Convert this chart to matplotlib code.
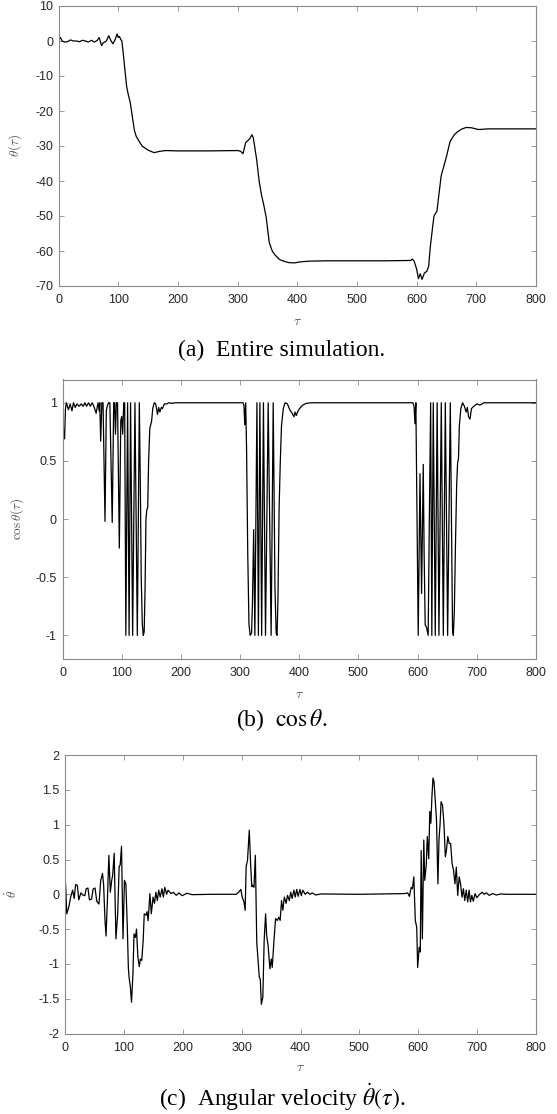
import matplotlib
matplotlib.use("Agg")
import matplotlib.pyplot as plt

# ---------------- data ----------------
tau_theta = [0, 3, 6, 10, 15, 20, 25, 30, 35, 40, 45, 50, 55, 60, 65, 68, 72, 75, 80,
             84, 88, 91, 95, 98, 100, 102, 104, 106, 108, 111, 114, 117, 120, 123, 127,
             130, 135, 140, 145, 150, 160, 170, 180, 200, 250, 300, 305, 309, 313.5,
             317, 320, 324, 326, 328, 332, 336, 340, 344, 348, 353, 358, 362, 370, 377,
             385, 395, 405, 420, 450, 500, 550, 590, 593, 596, 600, 603, 606, 609, 613,
             617, 620, 623, 629, 634, 641, 650, 656, 663, 668, 675, 683, 692, 704, 720,
             750, 800]
theta = [0.5, 1.0, 0.0, -0.3, -0.2, 0.3, 0.0, 0.0, -0.2, 0.2, 0.0, -0.3, 0.2, -0.3,
         0.2, 1.0, -1.3, -0.5, 0.0, 1.5, 0.0, -0.8, 0.5, 2.0, 1.0, 1.3, 0.5, 0.0, -3.0,
         -8.0, -13.0, -15.5, -17.5, -21.0, -25.5, -27.2, -28.7, -30.0, -30.6, -31.2,
         -31.9, -31.5, -31.3, -31.4, -31.4, -31.3, -31.5, -32.2, -29.0, -28.5, -28.0,
         -26.8, -27.5, -29.5, -34.0, -40.0, -44.0, -47.0, -50.5, -57.6, -60.0, -61.0,
         -62.4, -62.9, -63.3, -63.4, -63.1, -62.9, -62.8, -62.8, -62.8, -62.7, -62.3,
         -63.0, -65.2, -67.9, -66.5, -68.1, -66.3, -65.8, -64.5, -58.6, -50.0, -48.6,
         -38.6, -33.0, -28.7, -26.8, -26.0, -25.2, -24.7, -24.8, -25.3, -25.1, -25.1,
         -25.1]

tau_cos = [0, 1, 2, 3.5, 5, 6.5, 10, 13, 16, 18.5, 21.5, 24.5, 28, 31.7, 35, 37.7, 40.7,
           44, 47, 50, 53, 56.8, 60, 62, 63, 64.5, 66.5, 68.5, 71.8, 74, 76, 78, 80,
           84, 86.5, 88, 89.5, 91, 93, 96, 98.5, 100, 101.7, 103.5, 105, 107, 110,
           112.5, 115, 118.5, 122.4, 126.4, 129.8, 131.5, 133, 134.8, 136.5, 138,
           139.5, 141, 142.5, 144, 145.5, 147.5, 150.5, 152.5, 155, 157.5, 160.5,
           162.5, 164.5, 167, 169, 172, 176, 180, 185, 190, 250, 300, 305, 306.5, 308,
           309.5, 311, 313, 315, 317, 319.5, 321, 323, 325, 328.5, 331, 333.5, 336.5,
           339.5, 343, 347.5, 352.5, 356, 359, 361, 362.5, 364, 366, 368, 370, 373,
           376, 380, 384, 388, 391, 393, 395, 398, 402, 406, 412, 420, 500, 580, 592,
           594, 595.5, 597, 599, 601, 602.5, 604, 606.7, 609.5, 611, 612.8, 615,
           617.8, 619.8, 622, 624, 626.4, 629.8, 633, 636, 640, 643.4, 646.8, 650.7,
           655.2, 657.5, 659, 660.3, 662, 664, 666, 667.5, 669, 670.5, 673, 676, 679,
           682, 684, 686, 688.5, 691, 695, 700, 705, 712, 800]
cos_theta = [1.0, 0.9, 0.69, 0.69, 0.95, 1.0, 0.94, 0.99, 0.93, 1.0, 0.96, 0.99, 0.97,
             0.99, 0.97, 1.0, 0.97, 1.0, 0.97, 1.0, 0.97, 0.91, 1.0, 0.93, 1.0, 0.67,
             1.0, 1.0, -0.02, 0.93, 0.98, 1.0, 1.0, -0.03, 1.0, 1.0, 0.73, 1.0, 1.0,
             -0.25, 0.85, 0.88, 0.73, 1.0, 1.0, -1.0, 1.0, -1.0, 1.0, -1.0, 1.0, -1.0,
             1.0, 0.3, -0.5, -0.9, -1.0, -0.97, -0.6, 0.0, 0.08, 0.1, 0.5, 0.78, 0.84,
             0.95, 1.0, 0.99, 0.9, 0.96, 0.92, 0.96, 0.95, 0.99, 0.99, 1.0, 0.995, 1.0,
             1.0, 1.0, 1.0, 0.98, 0.81, 1.0, 0.6, -0.3, -0.9, -1.0, -0.98, -0.7, -0.09,
             -1.0, 1.0, -1.0, 1.0, -1.0, 1.0, -1.0, 1.0, -1.0, 1.0, -0.6, -0.98, -1.0,
             -0.7, 0.1, 0.5, 0.8, 0.95, 1.0, 0.99, 0.94, 0.91, 0.88, 0.92, 0.89, 0.93,
             0.96, 0.98, 0.995, 1.0, 1.0, 1.0, 1.0, 0.97, 0.82, 1.0, 0.0, -1.0, -0.3,
             0.39, -0.64, 0.47, -0.3, -0.91, -0.93, -1.0, 0.0, 1.0, -1.0, 1.0, -1.0,
             1.0, -1.0, 1.0, -1.0, 1.0, -1.0, 1.0, -0.2, -0.95, -1.0, -0.8, -0.2, 0.3,
             0.48, 0.52, 0.8, 0.95, 1.0, 0.97, 0.92, 0.96, 0.88, 0.86, 0.95, 0.97, 0.99,
             0.98, 1.0, 1.0]

tau_omega = [0, 1, 3, 6.6, 9.6, 13, 15.6, 18, 21, 23.4, 27, 30, 33.7, 36, 39, 41.5, 45,
             48, 51, 54, 57.7, 60.7, 63.7, 65.5, 68, 69.7, 72, 74.5, 77, 79.3, 81, 83.5,
             86.5, 89.5, 92, 93.7, 96, 98.5, 101, 103.4, 105.8, 107.6, 108.8, 111, 113,
             115.4, 117.2, 119.6, 121.4, 123.8, 126.2, 128, 130.4, 132.8, 134.6, 137.6,
             139.4, 141.2, 144.2, 146.6, 149.6, 152, 154.4, 156.8, 159.2, 161.7, 164.7,
             167, 169.5, 172.5, 175, 180, 184, 189, 193.5, 199, 207, 216, 250, 291,
             295, 298.7, 301, 304, 306, 307.7, 310, 313, 315.5, 317.3, 319, 321, 323.3,
             325.7, 328, 330, 331.7, 333.5, 336, 338.3, 340.7, 342.5, 345, 348, 350.4,
             352, 355, 357.6, 360.6, 363, 365.4, 367.8, 370, 372.6, 375.6, 378, 381,
             383.4, 385.8, 388.8, 391, 393.6, 396, 399, 401.4, 403.8, 408, 411.7, 416,
             420, 426, 435, 500, 576, 582, 585, 588, 590, 592.5, 595, 597.4, 599, 601.6,
             603.4, 605, 607, 609.4, 611, 613.6, 615.4, 617.8, 619.6, 621.4, 623.2, 625,
             626.8, 628.6, 631, 633.4, 635.2, 637, 638.8, 641.2, 643.6, 646, 647.8,
             650.2, 652.6, 655, 657.5, 659.9, 662.3, 664.7, 667, 669.5, 671.9, 674.3,
             676.7, 679, 681.5, 684, 686.3, 688.7, 691, 693.5, 696.5, 699.5, 703.7,
             708.5, 712, 715.7, 720.5, 726.5, 732.6, 739.8, 750.6, 800]
omega = [0.15, 0.15, -0.28, -0.18, -0.04, 0.06, -0.06, 0.14, 0.13, -0.08, 0.02, -0.01,
         -0.02, 0.08, 0.09, -0.08, -0.07, 0.08, 0.09, -0.1, -0.14, 0.2, 0.3, 0.15, -0.38,
         -0.6, -0.09, 0.56, 0.03, 0.2, 0.27, 0.59, -0.64, -0.28, 0.4, 0.42, 0.69, -0.64,
         0.2, 0.15, -0.47, -1.05, -1.19, -1.33, -1.55, -1.14, -0.57, -0.62, -0.5, -0.9,
         -1.04, -0.93, -0.95, -0.66, -0.28, -0.3, -0.25, -0.38, 0.01, -0.28, -0.04,
         -0.13, 0.03, -0.09, 0.06, -0.04, 0.08, -0.04, 0.1, 0.0, 0.06, 0.01, 0.03,
         -0.015, 0.02, -0.02, 0.015, -0.005, 0.0, 0.0, 0.03, 0.07, -0.04, -0.11, -0.23,
         0.4, 0.49, 0.92, 0.39, 0.11, 0.13, 0.1, 0.56, -0.69, -0.95, -1.19, -1.22,
         -1.58, -1.48, -0.66, -0.28, -0.59, -0.74, -1.07, -0.93, -1.05, -0.66, -0.35,
         -0.375, -0.33, -0.375, -0.09, -0.23, -0.04, -0.13, -0.015, -0.09, 0.03, -0.06,
         0.06, -0.04, 0.07, -0.03, 0.07, -0.02, 0.06, 0.0, 0.03, 0.0, 0.02, -0.01,
         0.005, 0.0, 0.01, 0.02, -0.03, 0.1, 0.08, 0.25, -0.38, -0.47, -1.05, -0.76,
         -0.83, 0.63, -0.64, 0.78, 0.2, 0.42, 0.83, 0.51, 1.19, 1.02, 1.4, 1.67, 1.62,
         1.38, 1.07, 0.15, 0.78, 1.0, 1.33, 1.28, 1.02, 0.54, 0.63, 0.83, 0.73, 0.73,
         0.44, 0.35, 0.15, 0.39, -0.015, 0.25, 0.15, -0.04, 0.08, -0.09, 0.06, -0.11,
         0.06, -0.11, -0.015, -0.1, 0.01, -0.05, -0.005, 0.03, 0.0, 0.02, -0.015, 0.01,
         -0.01, 0.005, 0.0, 0.0]

x_ticks = [0, 100, 200, 300, 400, 500, 600, 700, 800]
theta_ticks = [10, 0, -10, -20, -30, -40, -50, -60, -70]
cos_ticks = [1, 0.5, 0, -0.5, -1]
omega_ticks = [2, 1.5, 1, 0.5, 0, -0.5, -1, -1.5, -2]

captions = [r"(a)  Entire simulation.", r"(b)  $\cos\theta$.",
            r"(c)  Angular velocity $\dot{\theta}(\tau)$."]
ylabels = [r"$\theta(\tau)$", r"$\cos\theta(\tau)$", r"$\dot{\theta}$"]

# ---------------- figure ----------------
W, H = 557, 1114
fig = plt.figure(figsize=(W / 100, H / 100), dpi=100)
plt.rcParams['font.family'] = ['Liberation Sans', 'DejaVu Sans']

SPINE = '#8a8a8a'
TXT = '#262626'

def px_axes(l, r, t, b):
    return fig.add_axes([l / W, 1 - b / H, (r - l) / W, (b - t) / H])

def fmt(v):
    s = ('%g' % v)
    return s

def style(ax, yt, ylim, ylab, ylab_x, xlab_y):
    ax.set_xlim(0, 800)
    ax.set_ylim(*ylim)
    ax.set_xticks(x_ticks)
    ax.set_xticklabels([fmt(v) for v in x_ticks])
    ax.set_yticks(yt)
    ax.set_yticklabels([fmt(v) for v in yt])
    for s in ax.spines.values():
        s.set_color(SPINE)
        s.set_linewidth(0.8)
    ax.tick_params(direction='in', length=3.6, width=0.6, color=SPINE,
                   labelsize=9, labelcolor=TXT, top=True, right=True)
    ax.tick_params(axis='x', pad=6)
    ax.tick_params(axis='y', pad=4)
    ax.set_xlabel(r"$\tau$", fontsize=10, color='#555555', math_fontfamily='cm')
    ax.xaxis.set_label_coords(0.5, xlab_y)
    ax.set_ylabel(ylab, fontsize=9.5, color='#555555', math_fontfamily='cm')
    ax.yaxis.set_label_coords(ylab_x, 0.5)

ax1 = px_axes(58.6, 536, 6, 286)
ax1.plot(tau_theta, theta, color='black', lw=0.9)
style(ax1, theta_ticks, (-70, 10), ylabels[0], -0.072, -0.10)

ax2 = px_axes(62.5, 536, 379.5, 658.6)
ax2.plot(tau_cos, cos_theta, color='black', lw=0.9)
style(ax2, cos_ticks, (-1.2, 1.2), ylabels[1], -0.077, -0.10)

ax3 = px_axes(65, 536, 755.1, 1033.5)
ax3.plot(tau_omega, omega, color='black', lw=0.9)
style(ax3, omega_ticks, (-2, 2), ylabels[2], -0.095, -0.095)

for cap, yc in zip(captions, [350, 720, 1097]):
    fig.text(282 / W, 1 - yc / H, cap, ha='center', va='center', fontsize=17,
             family='Liberation Serif', math_fontfamily='stix', color='black')

fig.savefig("out.png", dpi=100)
